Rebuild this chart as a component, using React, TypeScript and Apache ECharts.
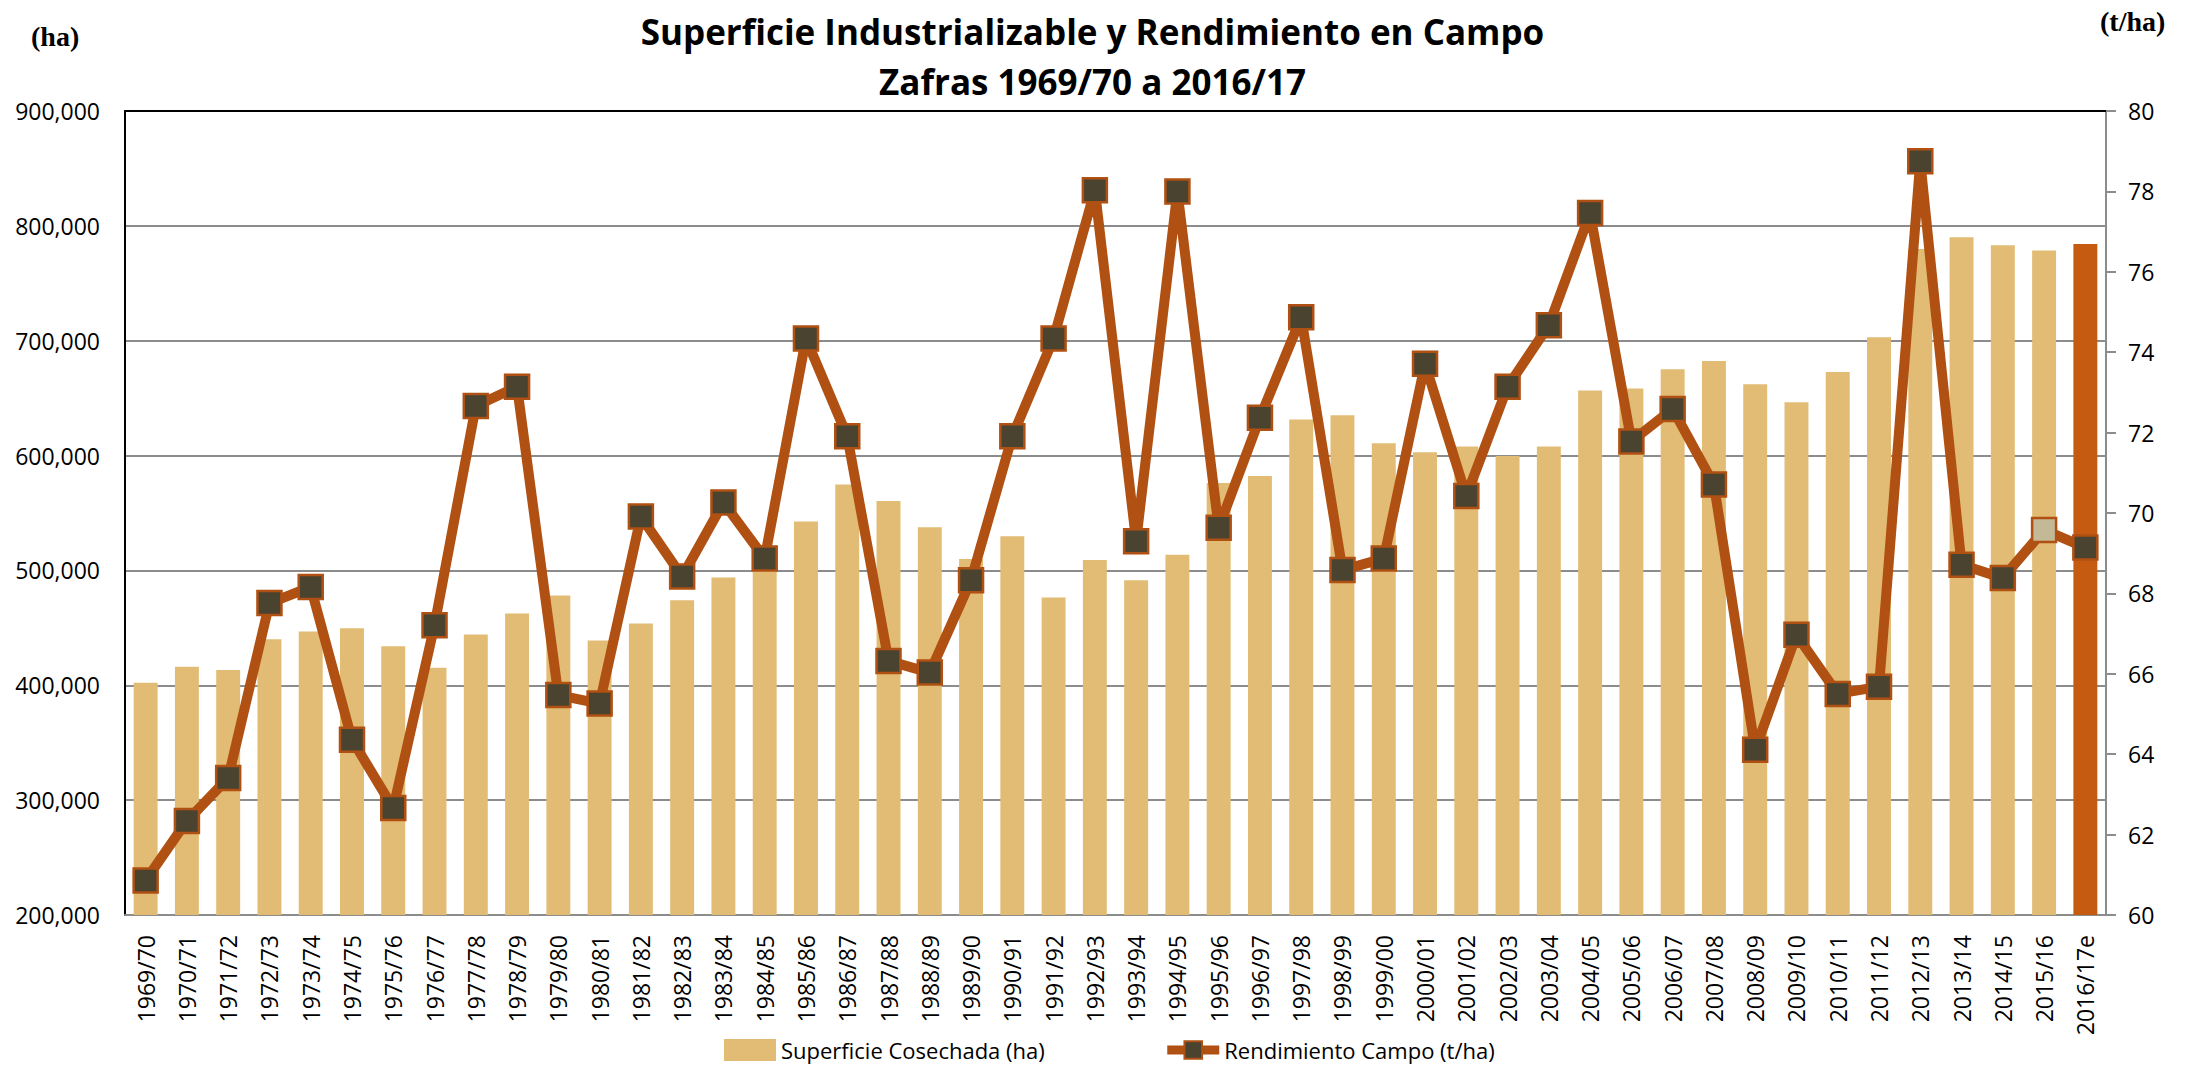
import React, { useEffect, useRef } from "react";
import * as echarts from "echarts";

const categories = [
  "1969/70", "1970/71", "1971/72", "1972/73", "1973/74", "1974/75", "1975/76", "1976/77",
  "1977/78", "1978/79", "1979/80", "1980/81", "1981/82", "1982/83", "1983/84", "1984/85",
  "1985/86", "1986/87", "1987/88", "1988/89", "1989/90", "1990/91", "1991/92", "1992/93",
  "1993/94", "1994/95", "1995/96", "1996/97", "1997/98", "1998/99", "1999/00", "2000/01",
  "2001/02", "2002/03", "2003/04", "2004/05", "2005/06", "2006/07", "2007/08", "2008/09",
  "2009/10", "2010/11", "2011/12", "2012/13", "2013/14", "2014/15", "2015/16", "2016/17e",
];

const superficie = [
  402300, 416100, 413300, 440000, 446900, 449700, 434000, 415200,
  444200, 462600, 478200, 439100, 453800, 474100, 493800, 505000,
  542600, 574800, 560500, 537500, 509900, 529700, 476400, 509000,
  491500, 513600, 576200, 582200, 631400, 635000, 610700, 602900,
  607900, 599600, 607900, 656700, 658500, 675100, 682400, 662200,
  646500, 672800, 703100, 779900, 790100, 783200, 778600, 784100,
];

const rendimiento = [
  60.86, 62.34, 63.41, 67.76, 68.16, 64.36, 62.66, 67.21,
  72.66, 73.14, 65.47, 65.26, 69.91, 68.42, 70.26, 68.87,
  74.34, 71.91, 66.32, 66.03, 68.33, 71.91, 74.34, 78.03,
  69.3, 78.0, 69.63, 72.37, 74.87, 68.58, 68.87, 73.71,
  70.42, 73.14, 74.67, 77.46, 71.78, 72.59, 70.71, 64.11,
  66.97, 65.5, 65.68, 78.75, 68.71, 68.38, 69.58, 69.14,
];

const seriesNames = ["Superficie Cosechada (ha)", "Rendimiento Campo (t/ha)"];
const titleLines = ["Superficie Industrializable y Rendimiento en Campo", "Zafras 1969/70 a 2016/17"];

const FONT = "'Open Sans', 'Noto Sans', sans-serif";
const BAR = "#E2BC74";
const BAR_LAST = "#C55A11";
const LINE = "#B05012";
const MARK = "#4A4330";
const MARK_LIGHT = "#C4B996";
const GRID_GREY = "#8C8C8C";

export default function App() {
  const ref = useRef<HTMLDivElement>(null);
  useEffect(() => {
    if (!ref.current) return;
    const chart = echarts.init(ref.current, null, { renderer: "svg" });
    const lastIdx = categories.length - 1;
    const specialIdx = categories.length - 2;
    chart.setOption({
      animation: false,
      backgroundColor: "#ffffff",
      title: {
        text: titleLines.join("\n"),
        left: "center",
        top: 6,
        padding: 0,
        textStyle: {
          fontFamily: FONT,
          fontWeight: "bold",
          fontSize: 35,
          lineHeight: 50,
          color: "#000",
        },
      },
      graphic: [
        {
          type: "text",
          left: 31,
          top: 22,
          style: {
            text: "(ha)",
            font: "bold 28px 'Liberation Serif', 'Times New Roman', serif",
            fill: "#000",
          },
        },
        {
          type: "text",
          left: 2100,
          top: 7,
          style: {
            text: "(t/ha)",
            font: "bold 28px 'Liberation Serif', 'Times New Roman', serif",
            fill: "#000",
          },
        },
      ],
      legend: {
        left: 719,
        top: 1034,
        itemWidth: 52,
        itemHeight: 22,
        itemGap: 118,
        textStyle: { fontFamily: FONT, fontSize: 22, color: "#000" },
        data: [
          { name: seriesNames[0], icon: "rect" },
          { name: seriesNames[1], lineStyle: { width: 9 } as any },
        ],
      },
      grid: { left: 125, right: 79, top: 111, bottom: 150, containLabel: false },
      xAxis: [
        {
          type: "category",
          data: categories,
          position: "bottom",
          axisLine: { show: true, lineStyle: { color: GRID_GREY, width: 2 } },
          axisTick: { show: false },
          axisLabel: {
            rotate: 90,
            interval: 0,
            margin: 20,
            fontFamily: FONT,
            fontSize: 23,
            color: "#000",
          },
        },
        {
          type: "category",
          data: categories,
          position: "top",
          axisLine: { show: true, onZero: false, lineStyle: { color: "#000", width: 2 } },
          axisTick: { show: false },
          axisLabel: { show: false },
        },
      ],
      yAxis: [
        {
          type: "value",
          min: 200000,
          max: 900000,
          interval: 100000,
          position: "left",
          axisLine: { show: true, lineStyle: { color: "#000", width: 2 } },
          axisTick: { show: false },
          splitLine: { show: true, lineStyle: { color: GRID_GREY, width: 2 } },
          axisLabel: {
            margin: 25,
            fontFamily: FONT,
            fontSize: 23,
            color: "#000",
            formatter: (v: number) => v.toLocaleString("en-US"),
          },
        },
        {
          type: "value",
          min: 60,
          max: 80,
          interval: 2,
          position: "right",
          axisLine: { show: true, lineStyle: { color: GRID_GREY, width: 2 } },
          axisTick: { show: true, length: 10, lineStyle: { color: GRID_GREY, width: 2 } },
          splitLine: { show: false },
          axisLabel: {
            margin: 22,
            fontFamily: FONT,
            fontSize: 23,
            color: "#000",
          },
        },
      ],
      series: [
        {
          name: seriesNames[0],
          type: "bar",
          xAxisIndex: 0,
          yAxisIndex: 0,
          barCategoryGap: "42%",
          itemStyle: { color: BAR },
          data: superficie.map((v, i) =>
            i === lastIdx ? { value: v, itemStyle: { color: BAR_LAST } } : v
          ),
          z: 2,
        },
        {
          name: seriesNames[1],
          type: "line",
          xAxisIndex: 0,
          yAxisIndex: 1,
          symbol: "rect",
          symbolSize: 24,
          lineStyle: { color: LINE, width: 10 },
          itemStyle: { color: MARK, borderColor: LINE, borderWidth: 2.5 },
          data: rendimiento.map((v, i) =>
            i === specialIdx
              ? { value: v, itemStyle: { color: MARK_LIGHT, borderColor: LINE, borderWidth: 2.5 } }
              : v
          ),
          z: 5,
        },
      ],
    });
    return () => chart.dispose();
  }, []);
  return (
    <div
      ref={ref}
      style={{ position: "fixed", left: 0, top: 0, width: 2185, height: 1065 }}
    />
  );
}
